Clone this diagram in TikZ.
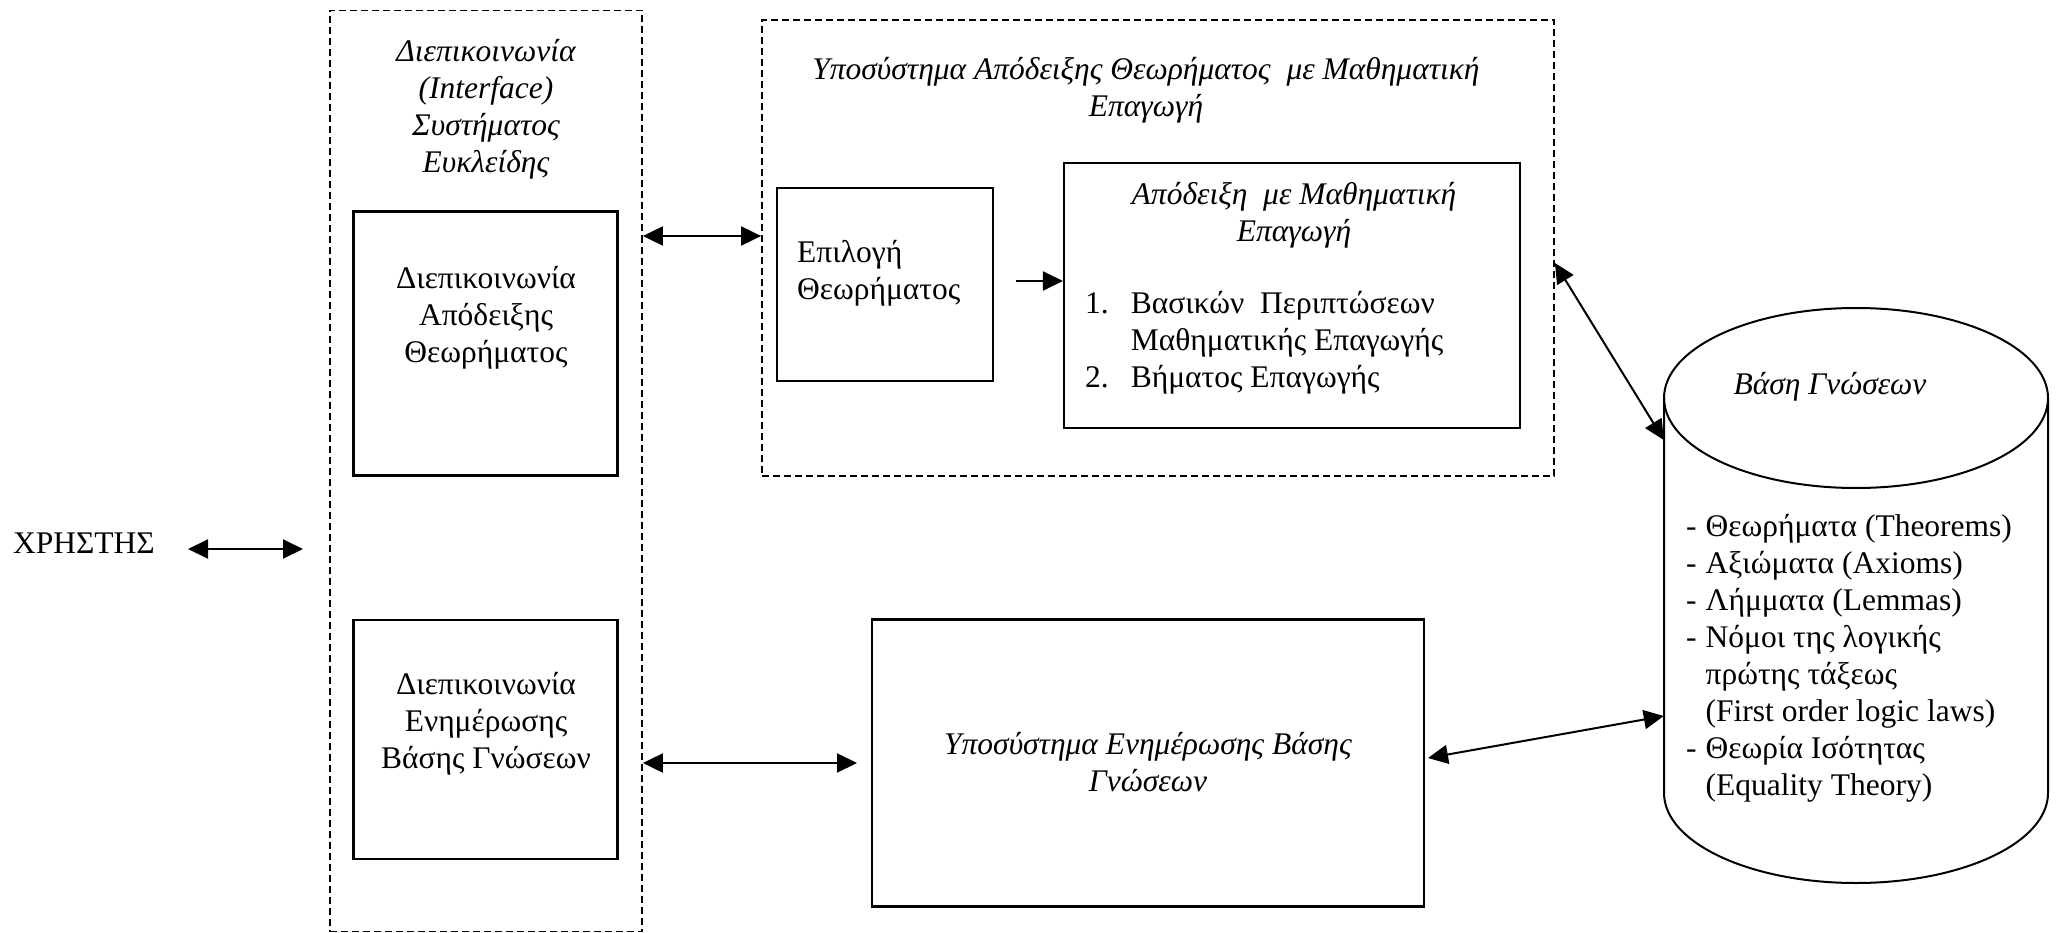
\documentclass[tikz,border=0pt]{standalone}
\usepackage{fontspec}
\setmainfont{Liberation Serif}
\usetikzlibrary{arrows.meta}
\begin{document}
\begin{tikzpicture}[x=1pt,y=-1pt,
  sbox/.style={draw,line width=2.1pt,inner sep=0pt},
  dbox/.style={draw,line width=1.8pt,dash pattern=on 7pt off 4pt,inner sep=0pt},
  txt/.style={font=\fontsize{31.5}{37}\selectfont,align=center,inner sep=0pt},
  itxt/.style={font=\fontsize{31.5}{37}\selectfont\itshape,align=center,inner sep=0pt},
  link/.style={line width=2pt,{Triangle[length=20pt,width=19pt]}-{Triangle[length=20pt,width=19pt]}},
  onelink/.style={line width=2pt,-{Triangle[length=20pt,width=19pt]}}]
\useasboundingbox (0,0) rectangle (2060,933);
% containers
\node[dbox,minimum width=312pt,minimum height=921pt] (ldash) at (486,471) {};
\node[dbox,minimum width=792pt,minimum height=456pt] (tdash) at (1158,248) {};
% boxes
\node[sbox,minimum width=264pt,minimum height=264pt] (box1) at (485.5,343.5) {};
\node[sbox,minimum width=264pt,minimum height=239pt] (box2) at (485.5,739.5) {};
\node[sbox,minimum width=216pt,minimum height=193pt] (epil) at (885,284.5) {};
\node[sbox,minimum width=456pt,minimum height=265pt] (apod) at (1292,295.5) {};
\node[sbox,minimum width=552pt,minimum height=287pt] (upd) at (1148,763) {};
% cylinder
\node[minimum width=384pt,minimum height=575pt,inner sep=0pt] (kb) at (1856,595.5) {};
\draw[line width=2pt] (1664,398) -- (1664,793) arc[start angle=180,end angle=360,x radius=192pt,y radius=90pt] -- (2048,398);
\draw[line width=2pt] (1856,398) ellipse [x radius=192pt,y radius=90pt];
% texts
\node[itxt] (ltitle) at (486,109) {Διεπικοινωνία\\(Interface)\\Συστήματος\\Ευκλείδης};
\node[txt] (t1) at (486,318) {Διεπικοινωνία\\Απόδειξης\\Θεωρήματος};
\node[txt] (t2) at (486,724) {Διεπικοινωνία\\Ενημέρωσης\\Βάσης Γνώσεων};
\node[txt] (user) at (84,543) {ΧΡΗΣΤΗΣ};
\node[itxt] (ttitle) at (1146,90) {Υποσύστημα Απόδειξης Θεωρήματος \ με Μαθηματική\\Επαγωγή};
\node[txt,align=left,anchor=west] (tepil) at (797,273.5) {Επιλογή\\Θεωρήματος};
\node[itxt] (tapod) at (1294,215) {Απόδειξη \ με Μαθηματική\\Επαγωγή};
\node[txt,anchor=west] (lapod) at (1085,343) {\begin{tabular}{@{}l@{\hspace{22pt}}l@{}}1. & Βασικών \ Περιπτώσεων\\ & Μαθηματικής Επαγωγής\\2. & Βήματος Επαγωγής\end{tabular}};
\node[itxt] (tkb) at (1830,387) {Βάση Γνώσεων};
\node[txt,anchor=west] (lkb) at (1686,659) {\begin{tabular}{@{}l@{\hspace{9pt}}l@{}}- & Θεωρήματα (Theorems)\\- & Αξιώματα (Axioms)\\- & Λήμματα (Lemmas)\\- & Νόμοι της λογικής\\ & πρώτης τάξεως\\ & (First order logic laws)\\- & Θεωρία Ισότητας\\ & (Equality Theory)\end{tabular}};
\node[itxt] (tupd) at (1148,762) {Υποσύστημα Ενημέρωσης Βάσης\\Γνώσεων};
% connectors
\coordinate (ua) at (188,549);
\coordinate (ub) at (303,549);
\draw[link] (ua) -- (ub);
\draw[link] (ldash.east |- 0,236) -- (tdash.west |- 0,236);
\coordinate (ea) at (1016,281);
\draw[onelink] (ea) -- (apod.west |- ea);
\draw[link] (tdash.east |- 0,263) -- (kb.west |- 0,440);
\coordinate (ba) at (857,763);
\draw[link] (ldash.east |- ba) -- (ba);
\coordinate (ca) at (1428,758);
\draw[link] (ca) -- (kb.west |- 0,716);
\end{tikzpicture}
\end{document}
